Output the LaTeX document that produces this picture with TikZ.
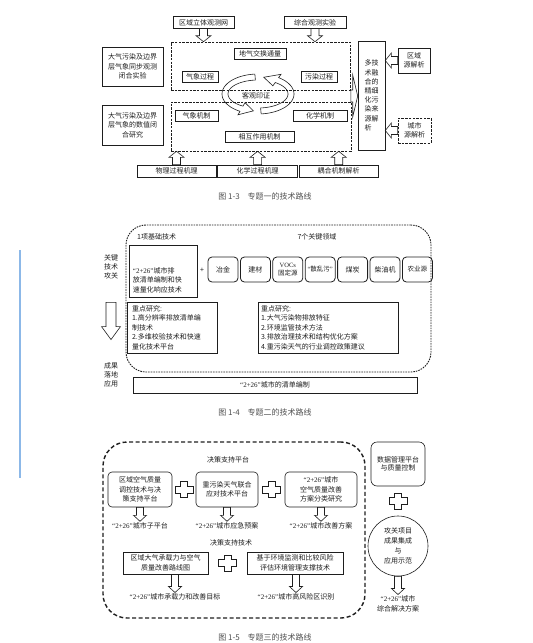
\documentclass[tikz,border=0pt]{standalone}
\usepackage{fontspec}
\setmainfont{Noto Sans CJK SC}
\newfontfamily\latinfont{Liberation Serif}
\usepackage{tikz}
\usetikzlibrary{calc, positioning}
\definecolor{ink}{HTML}{1E1E1E}
\definecolor{capgray}{HTML}{505050}
\definecolor{marker}{HTML}{8CB8E8}
\newcommand{\cityq}{{\latinfont “2+26”}}

\begin{document}
\begin{tikzpicture}[
    x=1pt, y=-1pt,
    font=\fontsize{7}{9.5}\selectfont, text=ink,
    box/.style={draw=ink, line width=0.6pt, inner sep=1.5pt, align=center},
    dbox/.style={box, dash pattern=on 2.5pt off 1.2pt},
    rbox/.style={box, rounded corners=4pt},
    fbox/.style={rbox, line width=0.8pt, minimum width=30pt, minimum height=25pt},
    lbl/.style={inner sep=1pt, align=center},
    panel/.style={draw=ink, rounded corners=20pt},
    figcap/.style={text=capgray, font=\fontsize{8}{10}\selectfont},
    cyc/.style={draw=ink, line width=0.6pt},
    harrow/.style n args={3}{draw=ink, line width=0.6pt, to path={
        ($(\tikztostart)!#1!90:(\tikztotarget)$) --
        ($(\tikztotarget)!#3!(\tikztostart)!#1!90:(\tikztotarget)$) --
        ($(\tikztotarget)!#3!(\tikztostart)!#2!90:(\tikztotarget)$) --
        (\tikztotarget) --
        ($(\tikztotarget)!#3!(\tikztostart)!#2!-90:(\tikztotarget)$) --
        ($(\tikztotarget)!#3!(\tikztostart)!#1!-90:(\tikztotarget)$) --
        ($(\tikztostart)!#1!-90:(\tikztotarget)$) -- cycle}},
    hol/.style={harrow={4pt}{7.5pt}{6pt}},
    sm/.style={harrow={3.5pt}{6.5pt}{6pt}},
    plusmark/.pic={\draw[ink, line width=0.6pt, fill=white]
        (-3.5,-8) -- (3.5,-8) -- (3.5,-3.5) -- (9,-3.5) -- (9,3.5) -- (3.5,3.5) --
        (3.5,8) -- (-3.5,8) -- (-3.5,3.5) -- (-9,3.5) -- (-9,-3.5) -- (-3.5,-3.5) -- cycle;}
  ]
    \useasboundingbox (0,0) rectangle (533,643);

    % figure 1-3
    \node[dbox, minimum width=179pt, minimum height=48pt] (dtop) at (260.5,66) {};
    \node[dbox, minimum width=180pt, minimum height=49pt] (dbot) at (261,126.5) {};
    \node[box, minimum width=61pt, minimum height=11.5pt] (obs1) at (203.5,22.5) {区域立体观测网};
    \node[box, minimum width=62pt, minimum height=11.5pt] (obs2) at (315,22.5) {综合观测实验};
    \node[box, minimum width=61pt, minimum height=39pt] (sync) at (132.5,66.5) {大气污染及边界\\层气象同步观测\\闭合实验};
    \node[box, minimum width=61pt, minimum height=40pt] (numc) at (132.5,125) {大气污染及边界\\层气象的数值闭\\合研究};
    \node[box, minimum width=52pt, minimum height=11pt] (flux) at (260,53.5) {地气交换通量};
    \node[box, minimum width=36pt, minimum height=11pt] (metp) at (200,76.5) {气象过程};
    \node[box, minimum width=36pt, minimum height=11pt] (polp) at (319,76.5) {污染过程};
    \node[box, minimum width=43pt, minimum height=11pt] (metm) at (196.5,115.5) {气象机制};
    \node[box, minimum width=54pt, minimum height=11pt] (chem) at (320,115.5) {化学机制};
    \node[box, minimum width=69pt, minimum height=11pt] (inter) at (259.5,136.5) {相互作用机制};
    \node[box, minimum width=79pt, minimum height=12pt] (phys) at (176.5,171) {物理过程机理};
    \node[box, minimum width=80pt, minimum height=12pt, right=1pt of phys] (chpr) {化学过程机理};
    \node[box, minimum width=79pt, minimum height=12pt, right=1pt of chpr] (coup) {耦合机制解析};
    \node[box, minimum width=27pt, minimum height=109pt, align=left, font=\fontsize{7}{9.2}\selectfont] (fuse) at (371.5,95.5) {多技\\术融\\合的\\精细\\化污\\染来\\源解\\析};
    \node[box, minimum width=32pt, minimum height=25pt] (regsrc) at (414,60.5) {区域\\源解析};
    \node[dbox, minimum width=33pt, minimum height=25pt] (citysrc) at (414.5,130.5) {城市\\源解析};
    \node[lbl] (verify) at (256,96) {客观印证};
    \draw[cyc] plot[domain=95:240, samples=30] ({258+36*cos(\x)},{94-20*sin(\x)})
        -- ({258+40*cos(240)},{94-24*sin(240)}) -- ({258+33*cos(262)},{94-17*sin(262)})
        -- ({258+26*cos(240)},{94-10*sin(240)})
        -- plot[domain=240:95, samples=30] ({258+30*cos(\x)},{94-14*sin(\x)}) -- cycle;
    \draw[cyc] plot[domain=275:415, samples=30] ({258+36*cos(\x)},{94-20*sin(\x)})
        -- ({258+40*cos(415)},{94-24*sin(415)}) -- ({258+33*cos(440)},{94-17*sin(440)})
        -- ({258+26*cos(415)},{94-10*sin(415)})
        -- plot[domain=415:275, samples=30] ({258+30*cos(\x)},{94-14*sin(\x)}) -- cycle;
    \draw[hol] (obs1.south) to (obs1.south |- dtop.north);
    \draw[hol] (obs2.south) to (obs2.south |- dtop.north);
    \draw[hol] (phys.north) to (phys.north |- dbot.south);
    \draw[hol] (chpr.north) to (chpr.north |- dbot.south);
    \draw[hol] (coup.north) to (coup.north |- dbot.south);
    \draw[hol] (regsrc.west) to (regsrc.west -| fuse.east);
    \draw[hol] (citysrc.west) to (citysrc.west -| fuse.east);
    \coordinate (gap) at ($(dtop.south east)!0.5!(dbot.north east)$);
    \draw[harrow={6pt}{21pt}{5pt}] (gap) to (gap -| fuse.west);
    \node[figcap] (cap3) at (265,196) {图 1-3\hspace{1em}专题一的技术路线};

    % figure 1-4
    \node[panel, dash pattern=on 1.6pt off 1pt, line width=0.9pt, minimum width=305pt, minimum height=147pt] (pan2) at (278.5,298.5) {};
    \node[lbl, anchor=west] (one) at (136,237) {1项基础技术};
    \node[lbl] (seven) at (317,237) {7个关键领域};
    \node[box, minimum width=68pt, minimum height=52pt] (base) at (163,271) {};
    \node[lbl, align=left, anchor=west] (baset) at ($(base.west)+(3,9)$) {\cityq 城市排\\放清单编制和快\\速量化响应技术};
    \node[lbl] (plus) at (202,270) {+};
    \node[fbox] (f1) at (223,269.5) {冶金};
    \node[fbox, right=1.6pt of f1] (f2) {建材};
    \node[fbox, right=1.6pt of f2, font=\fontsize{6.5}{8}\selectfont] (f3) {{\latinfont VOCs}\\固定源};
    \node[fbox, right=1.6pt of f3, font=\fontsize{6.5}{8}\selectfont] (f4) {{\latinfont “}散乱污{\latinfont ”}};
    \node[fbox, right=1.6pt of f4] (f5) {煤炭};
    \node[fbox, right=1.6pt of f5] (f6) {柴油机};
    \node[fbox, right=1.6pt of f6, font=\fontsize{6.5}{8}\selectfont] (f7) {农业源};
    \node[lbl, font=\fontsize{7}{9}\selectfont] (key) at (111,267) {关键\\技术\\攻关};
    \node[lbl, font=\fontsize{7}{9}\selectfont] (res) at (111,375) {成果\\落地\\应用};
    \coordinate (k1) at ($(key.south)+(0,22)$);
    \coordinate (k2) at ($(res.north)+(0,-22)$);
    \draw[harrow={5pt}{9.5pt}{13pt}] (k1) to (k2);
    \node[box, minimum width=90pt, minimum height=51pt, text width=80pt, align=left] (r1) at (172,327.5) {重点研究:\\1.高分辨率排放清单编\\制技术\\2.多维校验技术和快速\\量化技术平台};
    \node[box, minimum width=140pt, minimum height=51pt, text width=134pt, align=left] (r2) at (328,327.5) {重点研究:\\1.大气污染物排放特征\\2.环境监管技术方法\\3.排放治理技术和结构优化方案\\4.重污染天气的行业调控政策建议};
    \node[box, minimum width=284pt, minimum height=16pt] (list) at (275,385) {\cityq 城市的清单编制};
    \node[figcap] (cap4) at (265,412) {图 1-4\hspace{1em}专题二的技术路线};

    % figure 1-5
    \draw[marker, line width=1.3pt] (20,250) -- (20,478);
    \node[panel, dash pattern=on 4pt off 2.5pt, line width=1.4pt, rounded corners=24pt, minimum width=262pt, minimum height=176pt] (pan3) at (234,530) {};
    \node[lbl] (ptitle) at (228,460) {决策支持平台};
    \node[rbox, minimum width=64pt, minimum height=35pt] (p1) at (140,489.5) {区域空气质量\\调控技术与决\\策支持平台};
    \node[rbox, minimum width=62pt, minimum height=35pt] (p2) at (227,489.5) {重污染天气联合\\应对技术平台};
    \node[rbox, minimum width=72pt, minimum height=35pt] (p3) at (321,489.5) {\cityq 城市\\空气质量改善\\方案分类研究};
    \pic at ($(p1.east)!0.5!(p2.west)$) {plusmark};
    \pic at ($(p2.east)!0.5!(p3.west)$) {plusmark};
    \node[lbl, below=14pt of p1] (o1) {\cityq 城市子平台};
    \node[lbl, below=14pt of p2] (o2) {\cityq 城市应急预案};
    \node[lbl, below=14pt of p3] (o3) {\cityq 城市改善方案};
    \draw[sm] (p1.south) to (o1.north);
    \draw[sm] (p2.south) to (o2.north);
    \draw[sm] (p3.south) to (o3.north);
    \node[lbl] (ttitle) at (231,543) {决策支持技术};
    \node[box, minimum width=85pt, minimum height=22pt] (q1) at (165.5,563) {区域大气承载力与空气\\质量改善路线图};
    \node[box, minimum width=96pt, minimum height=22pt] (q2) at (295,563) {基于环境监测和比较风险\\评估环境管理支撑技术};
    \pic at ($(q1.east)!0.5!(q2.west)$) {plusmark};
    \node[lbl] (o4) at (175,597) {\cityq 城市承载力和改善目标};
    \node[lbl] (o5) at (296,597) {\cityq 城市高风险区识别};
    \draw[sm] (o4.north |- q1.south) to (o4.north);
    \draw[sm] (o5.north |- q2.south) to (o5.north);
    \node[rbox, rounded corners=6pt, minimum width=54pt, minimum height=44pt, font=\fontsize{7}{8}\selectfont] (dm) at (398,464) {数据管理平台\\与质量控制};
    \node[box, circle, minimum size=60pt, font=\fontsize{7}{10}\selectfont] (integ) at (398,546) {攻关项目\\成果集成\\与\\应用示范};
    \pic at ($(dm.south)!0.5!(integ.north)$) {plusmark};
    \node[lbl, font=\fontsize{7}{10}\selectfont] (sol) at (398,604) {\cityq 城市\\综合解决方案};
    \draw[sm] (integ.south) to (sol.north);
    \node[figcap] (cap5) at (265,637) {图 1-5\hspace{1em}专题三的技术路线};
\end{tikzpicture}
\end{document}
